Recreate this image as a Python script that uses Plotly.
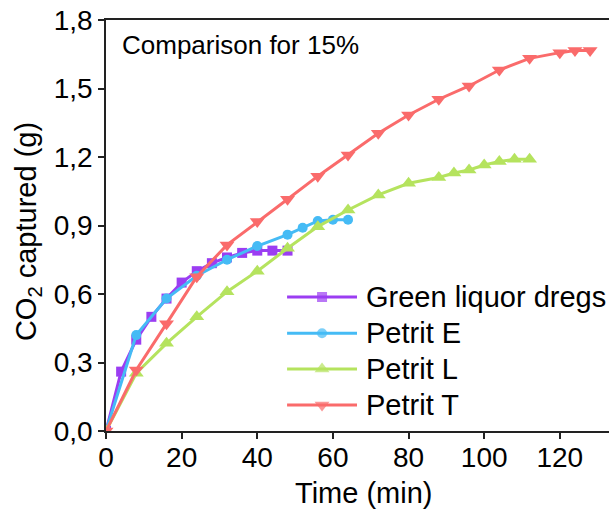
import plotly.graph_objects as go

# CO2 uptake over time for each sorbent (15 % CO2)
time_gld = [0, 4, 8, 12, 16, 20, 24, 28, 32, 36, 40, 44, 48]
co2_gld = [0, 0.26, 0.40, 0.50, 0.58, 0.65, 0.70, 0.735, 0.76, 0.78, 0.79, 0.79, 0.79]

time_e = [0, 8, 16, 24, 32, 40, 48, 52, 56, 60, 64]
co2_e = [0, 0.42, 0.58, 0.68, 0.75, 0.81, 0.86, 0.89, 0.92, 0.925, 0.925]

time_l = [0, 8, 16, 24, 32, 40, 48, 56, 64, 72, 80, 88, 92, 96, 100, 104, 108, 112]
co2_l = [0, 0.253, 0.384, 0.50, 0.61, 0.70, 0.80, 0.895, 0.968, 1.034, 1.085,
         1.11, 1.13, 1.143, 1.165, 1.18, 1.19, 1.19]

time_t = [0, 8, 16, 24, 32, 40, 48, 56, 64, 72, 80, 88, 96, 104, 112, 120, 124, 128]
co2_t = [0, 0.267, 0.47, 0.676, 0.815, 0.917, 1.015, 1.116, 1.209, 1.304, 1.384,
         1.453, 1.511, 1.581, 1.632, 1.657, 1.666, 1.666]

series_names = ["Green liquor dregs", "Petrit E", "Petrit L", "Petrit T"]
series_x = [time_gld, time_e, time_l, time_t]
series_y = [co2_gld, co2_e, co2_l, co2_t]
series_colors = ["#9B3DF2", "#45BBF5", "#B5E35E", "#FA6B6B"]
series_symbols = ["square", "circle", "triangle-up", "triangle-down"]
series_sizes = [10, 10, 13, 13]

x_ticks = [0, 20, 40, 60, 80, 100, 120]
y_ticks = [0.0, 0.3, 0.6, 0.9, 1.2, 1.5, 1.8]
y_ticktext = ["0,0", "0,3", "0,6", "0,9", "1,2", "1,5", "1,8"]

FONT = "Liberation Sans, Arial, sans-serif"
W, H = 609, 512
L, R, T, B = 106, 0, 20, 81

fig = go.Figure()

for name, xs, ys, col, sym, sz in zip(series_names, series_x, series_y,
                                      series_colors, series_symbols, series_sizes):
    fig.add_trace(go.Scatter(
        x=xs, y=ys, name=name, mode="lines+markers",
        line=dict(color=col, width=3),
        marker=dict(color=col, symbol=sym, size=sz, line=dict(width=0)),
        showlegend=False,
    ))

# Legend drawn on an overlay axis spanning the plot area (0..1 in both directions)
leg_x0, leg_x1 = 0.36, 0.499
leg_rows = [0.326, 0.238, 0.151, 0.063]
for name, col, sym, sz, ry in zip(series_names, series_colors, series_symbols,
                                  series_sizes, leg_rows):
    fig.add_trace(go.Scatter(
        x=[leg_x0, (leg_x0 + leg_x1) / 2, leg_x1], y=[ry, ry, ry],
        mode="lines+markers", xaxis="x2", yaxis="y2",
        line=dict(color=col, width=3),
        marker=dict(color=col, symbol=sym, size=[0, sz, 0], line=dict(width=0)),
        showlegend=False, hoverinfo="skip",
    ))
    fig.add_annotation(
        x=0.513, y=ry, xref="paper", yref="paper", text=name,
        showarrow=False, xanchor="left", yanchor="middle",
        font=dict(family=FONT, size=29, color="black"),
    )

axis_common = dict(
    showline=True, linecolor="#222", linewidth=1.5,
    ticks="outside", ticklen=6, tickwidth=1.5, tickcolor="#222",
    showgrid=False, zeroline=False,
    tickfont=dict(family=FONT, size=28, color="black"),
)

fig.update_layout(
    width=W, height=H,
    margin=dict(l=L, r=R, t=T, b=B),
    paper_bgcolor="white", plot_bgcolor="white",
    font=dict(family=FONT, color="black"),
    xaxis=dict(range=[0, 133], tickvals=x_ticks, mirror=True,
               ticklabelstandoff=-5, **axis_common),
    yaxis=dict(range=[0, 1.8], tickvals=y_ticks, ticktext=y_ticktext, **axis_common),
    xaxis2=dict(overlaying="x", range=[0, 1], visible=False),
    yaxis2=dict(overlaying="y", range=[0, 1], visible=False),
)

fig.add_annotation(
    x=0.028, y=0.939, xref="paper", yref="paper", text="Comparison for 15%",
    showarrow=False, xanchor="left", yanchor="middle",
    font=dict(family=FONT, size=26, color="black"),
)
fig.add_annotation(
    x=0.512, y=-0.15, xref="paper", yref="paper", text="Time (min)",
    showarrow=False, xanchor="center", yanchor="middle",
    font=dict(family=FONT, size=29, color="black"),
)
fig.add_annotation(
    x=-0.155, y=0.484, xref="paper", yref="paper", text="CO<sub>2</sub> captured (g)",
    showarrow=False, textangle=-90, xanchor="center", yanchor="middle",
    font=dict(family=FONT, size=29, color="black"),
)

fig.write_html("out.html")
